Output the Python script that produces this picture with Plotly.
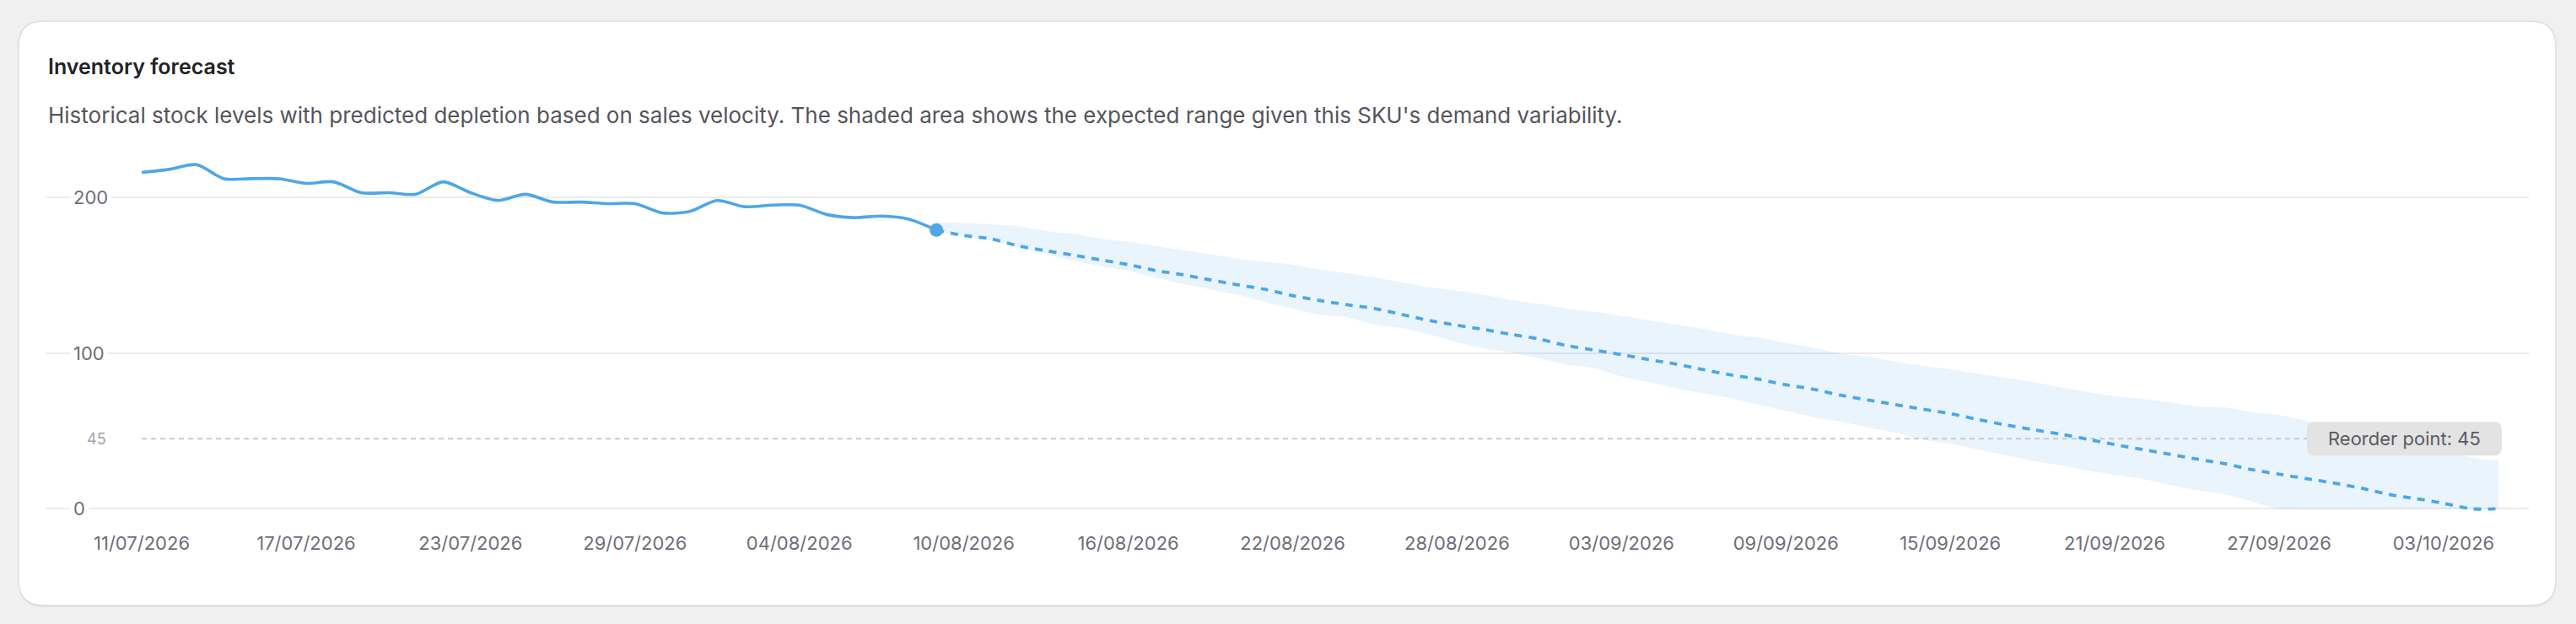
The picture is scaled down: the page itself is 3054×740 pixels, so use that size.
import pandas as pd
import plotly.graph_objects as go

# --- data ------------------------------------------------------------------
start_date = "2026-07-11"

# daily stock levels, 11/07 .. 09/08
history_stock = [216, 218, 221, 212, 212, 212, 209, 210, 203, 203,
                 202, 210, 203, 198, 202, 197, 197, 196, 196, 190,
                 191, 198, 194, 195, 195, 189, 187, 188, 186, 179]

# daily forecast, 09/08 .. 05/10
forecast_stock = [179, 175.5, 173.4, 168.8, 165.8, 162.9, 159.8, 156.8, 153, 150.3,
                  147, 143.8, 140.9, 136.9, 133.7, 131, 128.6, 124.7, 120.9, 117.8,
                  115.1, 111.9, 109, 104.8, 101.9, 99, 95.8, 92.9, 89.3, 85.9,
                  83.2, 79.6, 76.8, 72.9, 69.8, 66.9, 63.9, 61.1, 57.4, 53.9,
                  50.9, 48, 44.7, 41.2, 38.1, 35, 31.9, 29, 25.1, 22.2,
                  19.3, 16.5, 13.2, 9.2, 6.5, 3.5, 0, 0]

forecast_upper = [184, 183.5, 182.7, 181.5, 178.4, 176.6, 173.4, 171.5, 168.8, 166.1,
                  163.4, 160.7, 158.6, 156.8, 153.5, 151.3, 148.5, 145.4, 142.3, 140,
                  137.3, 134, 131.5, 128.6, 126.5, 123.8, 121, 118.3, 115.6, 112,
                  109.9, 106.6, 103.4, 99.8, 97.6, 94.4, 91.7, 89.5, 86.8, 84.1,
                  81.4, 78.1, 75, 72.2, 70.6, 68.4, 65.7, 65.1, 61.9, 60.1,
                  56.5, 53, 49.5, 46, 42, 38, 33, 30.8]

forecast_lower = [178, 175, 172.5, 168, 163.4, 159.3, 156, 152.6, 148.5, 144.5,
                  140.9, 137.3, 132.8, 128.6, 124.7, 122.8, 118.3, 116, 112, 107,
                  103, 100.3, 96.7, 92.5, 90.4, 85, 81.4, 77.4, 74.1, 71,
                  66.9, 63, 58.8, 56.1, 52.2, 48.9, 44.4, 41.7, 38.1, 34.5,
                  30.8, 28.1, 24.6, 21.9, 19.2, 15.5, 11.9, 9.2, 4.7, 0,
                  0, 0, 0, 0, 0, 0, 0, 0]

reorder_point = 45
y_ticks = [0, 100, 200]
x_tick_dates = ["2026-07-11", "2026-07-17", "2026-07-23", "2026-07-29", "2026-08-04",
                "2026-08-10", "2026-08-16", "2026-08-22", "2026-08-28", "2026-09-03",
                "2026-09-09", "2026-09-15", "2026-09-21", "2026-09-27", "2026-10-03"]

title_text = "Inventory forecast"
subtitle_text = ("Historical stock levels with predicted depletion based on sales velocity. "
                 "The shaded area shows the expected range given this SKU's demand variability.")

# --- geometry ----------------------------------------------------------------
W, H = 3054, 740
L, R, T, B = 54, 56, 175, 133
PW, PH = W - L - R, H - T - B
Y_MIN, Y_MAX = -2, 232

LINE = "#4DA6E8"
BAND = "rgba(77,166,232,0.12)"
MUTED = "#6e6e78"
FONT = "Inter"

hist_dates = pd.date_range(start_date, periods=len(history_stock), freq="D")
fc_dates = pd.date_range(hist_dates[-1], periods=len(forecast_stock), freq="D")

x_start = hist_dates[0] - pd.Timedelta(days=3.51)
x_end = fc_dates[-1] + pd.Timedelta(days=1.11)


def to_paper(px, py):
    return (px - L) / PW, 1 - (py - T) / PH


def rounded_rect(x0, y0, x1, y1, r):
    # pixel box -> svg path in paper units
    def p(x, y):
        a, b = to_paper(x, y)
        return f"{a:.6f},{b:.6f}"
    return " ".join([
        f"M {p(x0 + r, y0)}",
        f"L {p(x1 - r, y0)} Q {p(x1, y0)} {p(x1, y0 + r)}",
        f"L {p(x1, y1 - r)} Q {p(x1, y1)} {p(x1 - r, y1)}",
        f"L {p(x0 + r, y1)} Q {p(x0, y1)} {p(x0, y1 - r)}",
        f"L {p(x0, y0 + r)} Q {p(x0, y0)} {p(x0 + r, y0)} Z",
    ])


fig = go.Figure()

# shaded expected range
fig.add_trace(go.Scatter(
    x=fc_dates, y=forecast_lower, mode="lines",
    line=dict(width=0, shape="spline", smoothing=0.8),
    hoverinfo="skip", showlegend=False))
fig.add_trace(go.Scatter(
    x=fc_dates, y=forecast_upper, mode="lines", fill="tonexty", fillcolor=BAND,
    line=dict(width=0, shape="spline", smoothing=0.8),
    hoverinfo="skip", showlegend=False))

# reorder point line
fig.add_trace(go.Scatter(
    x=[hist_dates[0], fc_dates[-1]], y=[reorder_point, reorder_point], mode="lines",
    line=dict(color="#c9c9cc", width=2, dash="6px,5px"),
    hoverinfo="skip", showlegend=False))

# history
fig.add_trace(go.Scatter(
    x=hist_dates, y=history_stock, mode="lines",
    line=dict(color=LINE, width=3.6, shape="spline", smoothing=0.8),
    showlegend=False))

# forecast
fig.add_trace(go.Scatter(
    x=fc_dates, y=forecast_stock, mode="lines",
    line=dict(color=LINE, width=3.8, dash="9px,8px", shape="spline", smoothing=0.8),
    showlegend=False))

# today marker
fig.add_trace(go.Scatter(
    x=[hist_dates[-1]], y=[history_stock[-1]], mode="markers",
    marker=dict(color=LINE, size=16), showlegend=False))

# card background
shapes = [
    dict(type="path", xref="paper", yref="paper", layer="below",
         path=rounded_rect(22, 27, 3030, 720, 30), fillcolor="rgba(0,0,0,0.05)", line=dict(width=0)),
    dict(type="path", xref="paper", yref="paper", layer="below",
         path=rounded_rect(22, 25, 3030, 718, 30), fillcolor="white",
         line=dict(color="#dedede", width=1.5)),
]

# reorder label box, centred on the reorder line
reorder_py = T + PH * (1 - (reorder_point - Y_MIN) / (Y_MAX - Y_MIN))
shapes.append(dict(type="path", xref="paper", yref="paper", layer="above",
                   path=rounded_rect(2735, reorder_py - 20, 2966, reorder_py + 20, 9),
                   fillcolor="#e3e3e3", line=dict(width=0)))

annotations = []
tx, ty = to_paper(55, 79)
annotations.append(dict(xref="paper", yref="paper", x=tx, y=ty, xanchor="left", yanchor="middle",
                        text=title_text, showarrow=False,
                        font=dict(family=FONT, size=25, weight=600, color="#222226")))
sx, sy = to_paper(55, 136)
annotations.append(dict(xref="paper", yref="paper", x=sx, y=sy, xanchor="left", yanchor="middle",
                        text=subtitle_text, showarrow=False,
                        font=dict(family=FONT, size=26, color="#55555c")))

# y labels sit on the gridlines with a white gap
lx, _ = to_paper(82, 0)
for v in y_ticks:
    annotations.append(dict(xref="paper", yref="y", x=lx, y=v, xanchor="left", yanchor="middle",
                            text=str(v), showarrow=False, bgcolor="white", borderpad=4,
                            font=dict(family=FONT, size=22, color=MUTED)))
rx, _ = to_paper(128, 0)
annotations.append(dict(xref="paper", yref="y", x=rx, y=reorder_point, xanchor="right",
                        yanchor="middle", text=str(reorder_point), showarrow=False,
                        font=dict(family=FONT, size=18, color="#a3a3ab")))
bx, _ = to_paper((2735 + 2966) / 2, 0)
annotations.append(dict(xref="paper", yref="y", x=bx, y=reorder_point, xanchor="center",
                        yanchor="middle", text=f"Reorder point: {reorder_point}", showarrow=False,
                        font=dict(family=FONT, size=22, color="#5b5b60")))

fig.update_layout(
    width=W, height=H,
    margin=dict(l=L, r=R, t=T, b=B),
    paper_bgcolor="#f0f0f0",
    plot_bgcolor="white",
    font=dict(family=FONT, color=MUTED),
    shapes=shapes,
    annotations=annotations,
    xaxis=dict(
        type="date", range=[x_start, x_end],
        tickvals=x_tick_dates, tickformat="%d/%m/%Y",
        showgrid=False, zeroline=False, showline=False, ticks="",
        ticklabelstandoff=22,
        tickfont=dict(family=FONT, size=22, color=MUTED),
    ),
    yaxis=dict(
        range=[Y_MIN, Y_MAX], tickvals=y_ticks, showticklabels=False,
        showgrid=True, gridcolor="#ebebeb", gridwidth=2,
        zeroline=False, showline=False, ticks="",
    ),
    hovermode=False,
)

fig.write_html("out.html", config={"displayModeBar": False},
               post_script="document.body.style.margin='0';document.body.style.background='#f0f0f0';")
